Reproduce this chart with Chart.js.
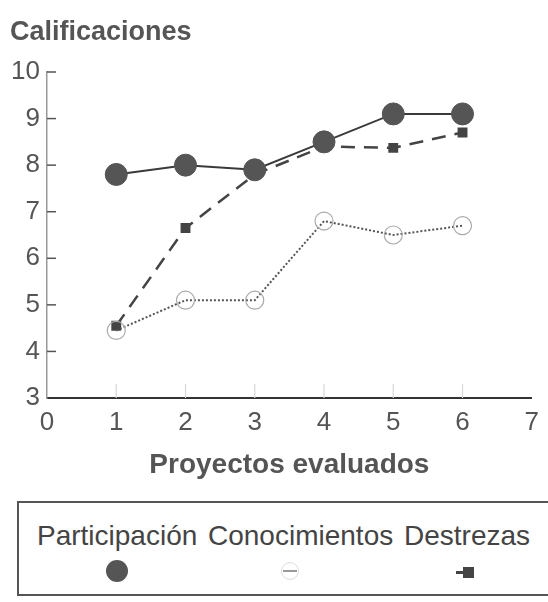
<!DOCTYPE html>
<html>
<head>
<meta charset="utf-8">
<script src="https://cdn.jsdelivr.net/npm/chart.js@4"></script>
<style>
  html, body { margin:0; padding:0; background:#fff; }
  body { width:548px; height:602px; position:relative; overflow:hidden; font-family:"Liberation Sans", Arial, sans-serif; }
  #wrap { position:absolute; left:0; top:0; width:548px; height:490px; }
  #legend { position:absolute; left:17px; top:501px; width:540px; height:95px; border:2px solid #555; box-sizing:border-box; }
  .lab { position:absolute; top:17px; font-size:28px; color:#444; white-space:nowrap; }
  .mk { position:absolute; }
</style>
</head>
<body>
<div id="wrap"><canvas id="c" width="548" height="490"></canvas></div>
<div id="legend">
  <span class="lab" style="left:18px">Participación</span>
  <span class="lab" style="left:189px">Conocimientos</span>
  <span class="lab" style="left:385px">Destrezas</span>
  <div class="mk" style="left:87px;top:57px;width:22px;height:22px;border-radius:50%;background:#555"></div>
  <div class="mk" style="left:262px;top:59px;width:18px;height:18px;border-radius:50%;border:1px solid #ddd;box-sizing:border-box"></div>
  <div class="mk" style="left:264px;top:67px;width:14px;height:2px;background:#999"></div>
  <div class="mk" style="left:444px;top:64px;width:11px;height:11px;background:#444"></div>
  <div class="mk" style="left:437px;top:68px;width:8px;height:3px;background:#444"></div>
</div>
<script>
const xValues = [1, 2, 3, 4, 5, 6];
const participacion = [7.8, 8.0, 7.9, 8.5, 9.1, 9.1];
const conocimientos = [4.45, 5.1, 5.1, 6.8, 6.5, 6.7];
const destrezas = [4.55, 6.65, 7.8, 8.4, 8.37, 8.7];
const seriesNames = ['Participación', 'Conocimientos', 'Destrezas'];
const xTicks = [0, 1, 2, 3, 4, 5, 6, 7];
const yTicks = [3, 4, 5, 6, 7, 8, 9, 10];

const toPts = (vals) => vals.map((v, i) => ({ x: xValues[i], y: v }));
const FONT = '"Liberation Sans", Arial, sans-serif';

const axisMarks = {
  id: 'axisMarks',
  afterDraw(chart) {
    const { ctx, scales: { x, y } } = chart;
    const x0 = x.getPixelForValue(0);
    ctx.save();
    ctx.strokeStyle = '#555';
    ctx.lineWidth = 1.5;
    yTicks.forEach(t => {
      if (t === 3) return;
      const py = y.getPixelForValue(t);
      ctx.beginPath();
      ctx.moveTo(x0, py);
      ctx.lineTo(x0 + 9, py);
      ctx.stroke();
    });
    ctx.strokeStyle = '#d8d8d8';
    ctx.lineWidth = 1.2;
    const yb = y.getPixelForValue(3);
    xTicks.forEach(t => {
      if (t === 0 || t === 7) return;
      const px = x.getPixelForValue(t);
      ctx.beginPath();
      ctx.moveTo(px, yb);
      ctx.lineTo(px, yb - 14);
      ctx.stroke();
    });
    ctx.restore();
  }
};

new Chart(document.getElementById('c'), {
  type: 'line',
  data: {
    datasets: [
      {
        label: seriesNames[0],
        data: toPts(participacion),
        borderColor: '#3a3a3a',
        borderWidth: 2,
        pointRadius: 11,
        pointBackgroundColor: '#555',
        pointBorderColor: '#555',
        pointBorderWidth: 1
      },
      {
        label: seriesNames[1],
        data: toPts(conocimientos),
        borderColor: '#555',
        borderWidth: 2,
        borderDash: [2, 2],
        pointRadius: 9,
        pointBackgroundColor: 'rgba(0,0,0,0)',
        pointBorderColor: '#aaa',
        pointBorderWidth: 1.2
      },
      {
        label: seriesNames[2],
        data: toPts(destrezas),
        borderColor: '#444',
        borderWidth: 2.5,
        borderDash: [14, 9],
        pointStyle: 'rect',
        pointRadius: 7,
        pointBackgroundColor: '#444',
        pointBorderColor: '#444',
        pointBorderWidth: 0
      }
    ]
  },
  options: {
    responsive: false,
    animation: false,
    layout: { padding: { left: 10, right: 8, top: 0, bottom: 0 } },
    plugins: {
      legend: { display: false },
      tooltip: { enabled: false },
      title: {
        display: true,
        text: 'Calificaciones',
        align: 'start',
        color: '#555',
        font: { family: FONT, size: 27, weight: 'bold' },
        padding: { top: 16, bottom: 23.6 }
      }
    },
    scales: {
      x: {
        type: 'linear',
        min: 0, max: 7,
        afterFit(s) { s.height = 92; },
        afterBuildTicks(s) { s.ticks = xTicks.map(v => ({ value: v })); },
        grid: { display: false, drawTicks: false },
        border: { display: true, color: '#333', width: 2 },
        ticks: { color: '#555', font: { family: FONT, size: 26 }, padding: 9, maxRotation: 0 },
        title: {
          display: true,
          text: 'Proyectos evaluados',
          color: '#555',
          font: { family: FONT, size: 28, weight: 'bold' },
          padding: { top: 0, bottom: 8 }
        }
      },
      y: {
        type: 'linear',
        min: 3, max: 10,
        afterFit(s) { s.width = 37; },
        afterBuildTicks(s) { s.ticks = yTicks.map(v => ({ value: v })); },
        grid: { display: false, drawTicks: false },
        border: { display: true, color: '#999', width: 1.5, dash: [2, 3] },
        ticks: { color: '#555', font: { family: FONT, size: 26 }, padding: 7 }
      }
    }
  },
  plugins: [axisMarks]
});
</script>
</body>
</html>
